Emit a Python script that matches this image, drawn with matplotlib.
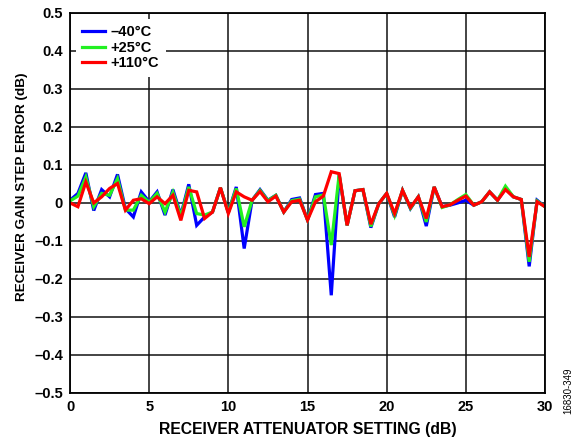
import matplotlib
matplotlib.use('Agg')
import matplotlib.pyplot as plt
import numpy as np

# attenuator setting, 0.5 dB steps
atten = np.arange(0, 30.5, 0.5)

err_m40 = [0.007, 0.025, 0.079, -0.020, 0.035, 0.016, 0.075, -0.015, -0.037, 0.029,
           0.003, 0.029, -0.032, 0.035, -0.032, 0.049, -0.059, -0.037, -0.024, 0.040,
           -0.025, 0.042, -0.120, 0.007, 0.035, 0.007, 0.020, -0.024, 0.009, 0.013,
           -0.045, 0.022, 0.025, -0.243, 0.073, -0.059, 0.032, 0.035, -0.065, -0.002,
           0.025, -0.037, 0.033, -0.015, 0.016, -0.061, 0.042, -0.010, -0.006, 0.000,
           0.007, -0.006, 0.003, 0.029, 0.007, 0.038, 0.016, 0.009, -0.167, 0.007,
           -0.010]
err_p25 = [0.005, 0.018, 0.068, -0.010, 0.025, 0.020, 0.064, -0.019, -0.019, 0.020,
           0.002, 0.025, -0.024, 0.028, -0.035, 0.042, -0.028, -0.032, -0.024, 0.040,
           -0.025, 0.038, -0.063, 0.007, 0.033, 0.006, 0.020, -0.024, 0.006, 0.010,
           -0.045, 0.016, 0.021, -0.111, 0.075, -0.059, 0.032, 0.035, -0.062, -0.002,
           0.025, -0.033, 0.033, -0.014, 0.016, -0.050, 0.042, -0.012, -0.005, 0.009,
           0.022, -0.006, 0.003, 0.029, 0.007, 0.044, 0.016, 0.009, -0.155, 0.005,
           -0.010]
err_p110 = [0.000, -0.010, 0.055, 0.000, 0.016, 0.038, 0.051, -0.019, 0.007, 0.011,
            -0.002, 0.016, -0.002, 0.020, -0.046, 0.033, 0.029, -0.041, -0.024, 0.040,
            -0.028, 0.029, 0.016, 0.007, 0.030, 0.003, 0.018, -0.024, 0.003, 0.007,
            -0.045, 0.003, 0.018, 0.082, 0.077, -0.059, 0.032, 0.035, -0.056, -0.002,
            0.025, -0.028, 0.033, -0.012, 0.016, -0.041, 0.042, -0.010, -0.005, 0.007,
            0.018, -0.006, 0.003, 0.029, 0.007, 0.035, 0.016, 0.009, -0.142, 0.003,
            -0.010]

labels = ['\u201340\u00b0C', '+25\u00b0C', '+110\u00b0C']
colors = ['#0000ff', '#22f022', '#ff0000']

plt.rcParams['font.family'] = ['Liberation Sans', 'DejaVu Sans']
plt.rcParams['font.weight'] = 'bold'

fig = plt.figure(figsize=(5.8, 4.44), dpi=100)
ax = fig.add_axes([0.1207, 0.115, 0.819, 0.856])

for ys, lab, c in zip([err_m40, err_p25, err_p110], labels, colors):
    ax.plot(atten, ys, color=c, lw=2.3, label=lab, solid_joinstyle='miter')

ax.set_xlim(0, 30)
ax.set_ylim(-0.5, 0.5)
ax.set_xticks(np.arange(0, 31, 5))
ax.set_yticks(np.arange(-0.5, 0.51, 0.1))
ax.set_yticklabels(['\u20130.5', '\u20130.4', '\u20130.3', '\u20130.2', '\u20130.1', '0',
                    '0.1', '0.2', '0.3', '0.4', '0.5'])
ax.grid(True, color='#111111', lw=1.1)
ax.set_axisbelow(True)
ax.tick_params(axis='y', length=0, labelsize=10.5, pad=5)
ax.tick_params(axis='x', length=0, labelsize=10.5, pad=5)
for s in ax.spines.values():
    s.set_linewidth(1.3)

ax.set_xlabel('RECEIVER ATTENUATOR SETTING (dB)', fontsize=11.3, fontweight='bold', labelpad=6)
ax.set_ylabel('RECEIVER GAIN STEP ERROR (dB)', fontsize=9.7, fontweight='bold')
ax.yaxis.set_label_coords(-0.088, 0.542)

leg = ax.legend(loc='upper left', bbox_to_anchor=(0.0, 1.0), fontsize=10.5, frameon=True,
                handlelength=1.55, handletextpad=0.4, labelspacing=0.1,
                borderaxespad=0.4, borderpad=0.45)
leg.get_frame().set_edgecolor('none')
leg.get_frame().set_facecolor('white')
leg.get_frame().set_alpha(1.0)
leg.get_frame().set_boxstyle('square', pad=0.0)
for t in leg.get_texts():
    t.set_fontweight('bold')

fig.text(0.98, 0.12, '16830-349', rotation=90, fontsize=7, fontweight='normal',
         ha='center', va='center')

fig.savefig('out.png', dpi=100)
